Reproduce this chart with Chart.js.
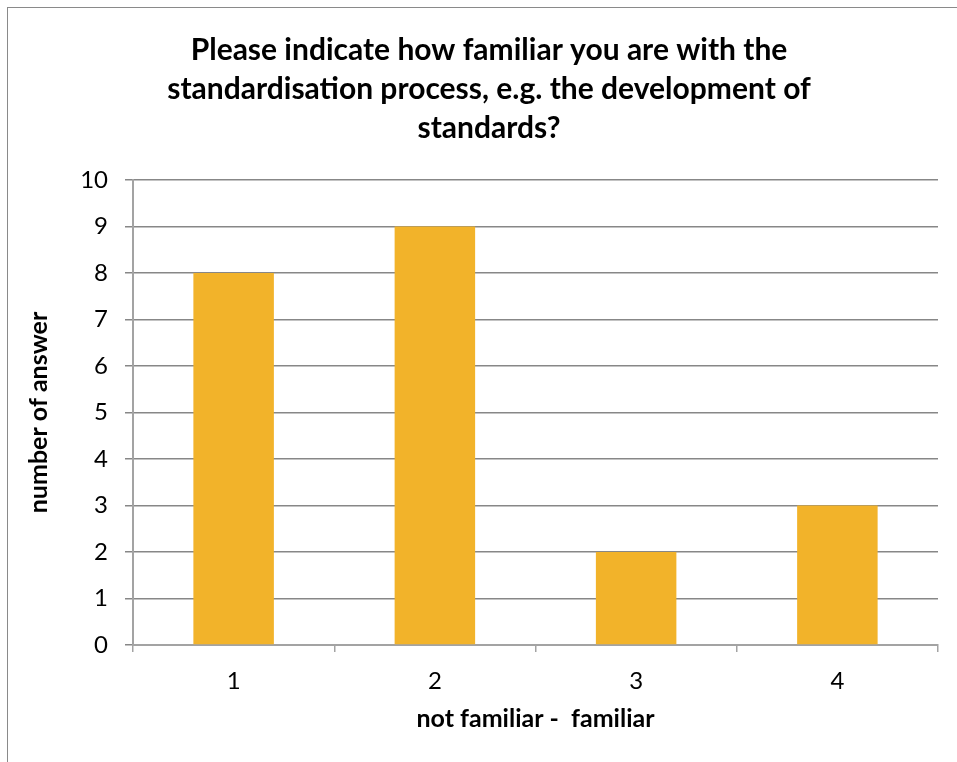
<!DOCTYPE html>
<html>
<head>
<meta charset="utf-8">
<script src="https://cdn.jsdelivr.net/npm/chart.js@4/dist/chart.umd.min.js"></script>
<style>
  html, body { margin: 0; padding: 0; background: #fff; overflow: hidden; }
  #frame { position: absolute; left: 7px; top: 7px; width: 1000px; height: 1000px;
           border: 1px solid #8a8a8a; box-sizing: border-box; }
  #wrap { position: absolute; left: 0; top: 0; width: 957px; height: 762px; }
</style>
</head>
<body>
<div id="frame"></div>
<div id="wrap"><canvas id="chart" width="957" height="762"></canvas></div>
<script>
// Survey answers per familiarity level
const categories = ['1', '2', '3', '4'];
const answers = [8, 9, 2, 3];
const yTicks = [0, 1, 2, 3, 4, 5, 6, 7, 8, 9, 10];

const titleLines = [
  'Please indicate how familiar you are with the',
  'standardisation process, e.g. the development of',
  'standards?'
];
const xTitle = 'not familiar -  familiar';
const yTitle = 'number of answer';

const FONT = 'Lato, "Open Sans", "Liberation Sans", sans-serif';
const GRID = '#878787';
const AXIS = '#a3a3a3';

new Chart(document.getElementById('chart'), {
  type: 'bar',
  data: {
    labels: categories,
    datasets: [{
      data: answers,
      backgroundColor: '#F2B32A',
      borderWidth: 0,
      barPercentage: 0.4,
      categoryPercentage: 1.0
    }]
  },
  options: {
    responsive: false,
    animation: false,
    layout: { padding: { left: 40, right: 19, top: 0, bottom: 0 } },
    plugins: {
      legend: { display: false },
      tooltip: { enabled: false },
      title: {
        display: true,
        text: titleLines,
        color: '#000',
        font: { family: FONT, size: 30, weight: 'bold', lineHeight: 39 / 30 },
        padding: { top: 30.5, bottom: 32.5 }
      }
    },
    scales: {
      x: {
        afterFit: s => { s.height = 117; },
        grid: {
          offset: true,
          drawOnChartArea: false,
          tickLength: 7,
          tickColor: AXIS,
          lineWidth: 1.5
        },
        border: { color: AXIS, width: 2 },
        ticks: { color: '#000', font: { family: FONT, size: 24 }, padding: 15 },
        title: {
          display: true,
          text: xTitle,
          color: '#000',
          font: { family: FONT, size: 25, weight: 'bold' },
          padding: { top: 0, bottom: 28 }
        }
      },
      y: {
        min: 0,
        max: 10,
        afterFit: s => { s.width = 93; },
        afterBuildTicks: s => { s.ticks = yTicks.map(v => ({ value: v })); },
        grid: {
          color: ctx => (ctx.tick && ctx.tick.value === 0 ? AXIS : GRID),
          lineWidth: 1.5,
          tickLength: 8,
          tickColor: GRID
        },
        border: { color: AXIS, width: 2 },
        ticks: { color: '#000', font: { family: FONT, size: 24 }, padding: 17 },
        title: {
          display: true,
          text: yTitle,
          color: '#000',
          font: { family: FONT, size: 25, weight: 'bold' },
          padding: { top: -16, bottom: 0 }
        }
      }
    }
  }
});
</script>
</body>
</html>
